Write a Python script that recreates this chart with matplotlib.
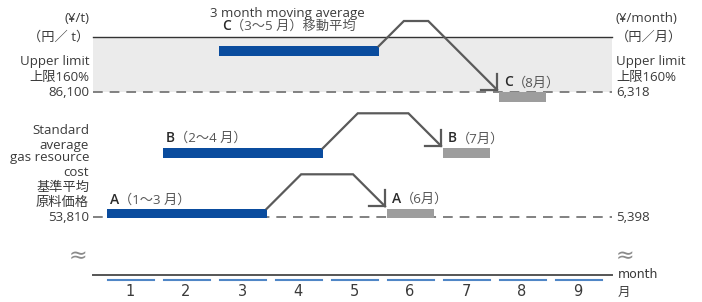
import matplotlib
matplotlib.use("Agg")
import matplotlib.pyplot as plt
from matplotlib.transforms import blended_transform_factory

plt.rcParams['font.family'] = ['Open Sans', 'Noto Sans CJK JP', 'DejaVu Sans']
plt.rcParams['lines.scale_dashes'] = False

# data
months = [1, 2, 3, 4, 5, 6, 7, 8, 9]
month_labels = ['1', '2', '3', '4', '5', '6', '7', '8', '9']

upper_limit_t = 86100      # yen / t
base_t = 53810
upper_limit_m = '6,318'    # yen / month
base_m = '5,398'
band_top = 100300          # top edge of the upper-limit band

groups = ['A', 'B', 'C']
avg_labels = ['（1～3 月）', '（2～4 月）', '（3～5 月）移動平均']
avg_start = [1, 2, 3]
avg_end = [3, 4, 5]
avg_level = [54700, 70300, 96700]
apply_month = [6, 7, 8]
apply_labels = ['（6月）', '（7月）', '（8月）']
apply_level = [54700, 70300, 84800]
arrow_peak = [64840, 80600, 104440]

W, H = 702, 302
BLUE = '#0a4c9e'
GREY_BAR = '#9d9d9d'
TXT = '#3a3a3a'
ARROW = '#5a5a5a'
FS = 9.5
bar_h = 2450

fig = plt.figure(figsize=(W / 100, H / 100), dpi=100)
ax = fig.add_axes([0, 0, 1, 1])
ax.set_xlim(1 - 130 / 56, 1 + 572 / 56)
ax.set_ylim(31853, 109866)
ax.axis('off')

x0, x1 = 0.34, 9.61
# upper limit band
ax.fill_between([x0, x1], upper_limit_t, band_top, color='#ebebeb', lw=0, zorder=0)
ax.plot([x0, x1], [band_top, band_top], color='#333333', lw=1.0, zorder=1)
for lvl in [upper_limit_t, base_t]:
    ax.plot([x0, x1], [lvl, lvl], color='#777777', lw=1.3, dashes=(7, 5), zorder=1)

# bars
for i, g in enumerate(groups):
    left = avg_start[i] - 0.41
    ax.barh(avg_level[i], avg_end[i] + 0.44 - left, left=left, height=bar_h,
            color=BLUE, zorder=3)
    ax.barh(apply_level[i], 0.84, left=apply_month[i] - 0.41, height=bar_h,
            color=GREY_BAR, zorder=3)

# arrows (45 degree in screen space)
to_px = ax.transData.transform
to_data = ax.transData.inverted().transform
for i in range(3):
    sx, sy = to_px((avg_end[i] + 0.44, avg_level[i] + bar_h / 2))
    tx, ty = to_px((apply_month[i] - 0.41, apply_level[i] + bar_h / 2))
    tx, ty = tx - 2, ty + 2.5
    _, py = to_px((0, arrow_peak[i]))
    pts = [(sx, sy), (sx + (py - sy), py), (tx - (py - ty), py), (tx, ty)]
    d = to_data(pts)
    ax.plot(d[:, 0], d[:, 1], color=ARROW, lw=1.6, solid_joinstyle='miter', zorder=4)
    hd = to_data([(tx - 16, ty), (tx, ty), (tx, ty + 16)])
    ax.plot(hd[:, 0], hd[:, 1], color=ARROW, lw=1.6, solid_joinstyle='miter', zorder=4)


def pix(x, y):
    return x / W, 1 - y / H


def group_label(xp, yp, letter, rest, size=FS):
    t = fig.text(*pix(xp, yp), letter, fontsize=size + 0.5, fontweight='semibold',
                 color='#2a2a2a', va='center', ha='left')
    ax.annotate(rest, xy=(1, 0), xycoords=t, va='bottom', ha='left',
                fontsize=size, color='#555555')


# labels for averaging periods and applied months
avg_label_y = [200, 138, 26]
for i, g in enumerate(groups):
    xl = to_px((avg_start[i] - 0.41, 0))[0] + 3
    group_label(xl, avg_label_y[i], g, avg_labels[i])
    xa = to_px((apply_month[i] - 0.41, 0))[0] + 5
    ya = H - to_px((0, apply_level[i] + bar_h / 2))[1] - 10
    group_label(xa, ya, g, apply_labels[i])

fig.text(*pix(210, 13), '3 month moving average', fontsize=FS, color=TXT,
         va='center', ha='left')

# left side labels
lx = 89
left_lines = [('(¥/t)', 18), ('（円／ t）', 37), ('Upper limit', 61), ('上限160%', 77),
              ('Standard', 131), ('average', 145), ('gas resource', 158), ('cost', 172),
              ('基準平均', 187), ('原料価格', 202)]
for s, y in left_lines:
    fig.text(*pix(lx, y), s, fontsize=FS, color=TXT, va='center', ha='right')
yt = blended_transform_factory(fig.transFigure, ax.transData)
ax.text(lx / W, upper_limit_t, '86,100', transform=yt, fontsize=FS, color=TXT,
        va='center', ha='right')
ax.text(lx / W, base_t, '53,810', transform=yt, fontsize=FS, color=TXT,
        va='center', ha='right')

# right side labels
rx = 616
right_lines = [('(¥/month)', 18), ('（円／月）', 37), ('Upper limit', 61), ('上限160%', 77)]
for s, y in right_lines:
    fig.text(*pix(rx, y), s, fontsize=FS, color=TXT, va='center', ha='left')
ax.text(rx / W, upper_limit_t, upper_limit_m, transform=yt, fontsize=FS, color=TXT,
        va='center', ha='left')
ax.text(rx / W, base_t, base_m, transform=yt, fontsize=FS, color=TXT,
        va='center', ha='left')

# month axis (broken scale)
xt = ax.get_xaxis_transform()
ax.plot([x0, x1], [1 - 274.5 / H] * 2, transform=xt, color='#555555', lw=1.4)
for m, lab in zip(months, month_labels):
    ax.plot([m - 0.39, m + 0.43], [1 - 279.5 / H] * 2, transform=xt,
            color='#4f86c6', lw=1.5)
    ax.text(m, 1 - 292 / H, lab, transform=xt, ha='center', va='center',
            fontsize=10.5, color=TXT, family=['Liberation Sans Narrow', 'DejaVu Sans'])
fig.text(*pix(618, 275), 'month', fontsize=9, color=TXT, va='center', ha='left',
         family=['Liberation Sans Narrow', 'DejaVu Sans'])
fig.text(*pix(618, 292), '月', fontsize=9, color=TXT, va='center', ha='left',
         family=['Noto Sans CJK JP'])
for xb in [78, 625]:
    fig.text(*pix(xb, 256), '≈', fontsize=16, color='#8a8a8a', va='center', ha='center',
             family=['DejaVu Sans'])

fig.savefig('out.png', dpi=100)
